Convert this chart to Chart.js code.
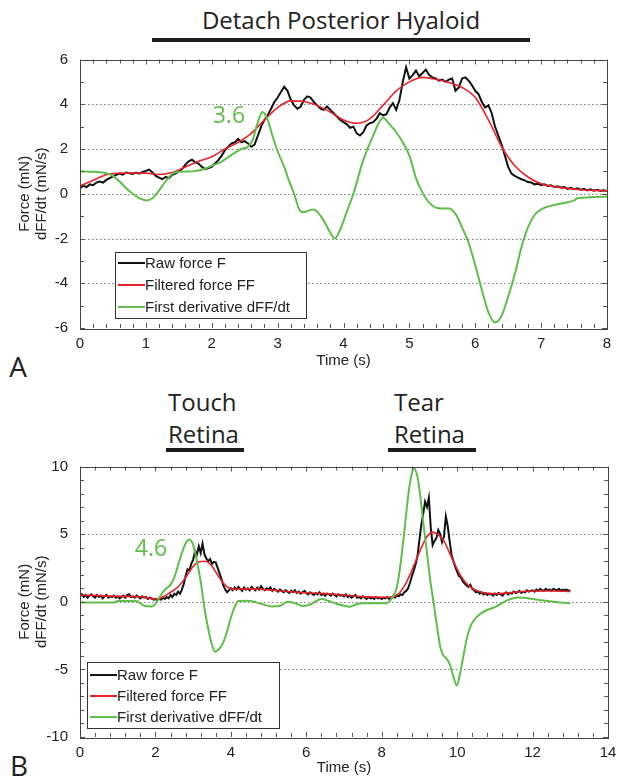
<!DOCTYPE html>
<html>
<head>
<meta charset="utf-8">
<script src="https://cdn.jsdelivr.net/npm/chart.js@4.4.0/dist/chart.umd.min.js"></script>
<style>
    body { margin: 0; background: #fff; }
    #page { position: relative; width: 618px; height: 779px; overflow: hidden; font-family: 'Open Sans', sans-serif; color: #222; }
    .t { position: absolute; white-space: nowrap; line-height: 1; }
    .c { transform: translate(-50%, -50%); }
    .l { transform: translateY(-50%); }
    .bar { position: absolute; height: 4px; background: #1b1b1b; }
    canvas { position: absolute; left: 0; }
</style>
</head>
<body>
<div id="page">
    <div class="t c" style="left:341px; top:20px; font-size:24px;">Detach Posterior Hyaloid</div>
    <div class="bar" style="left:152px; top:38px; width:378px;"></div>

    <div class="t l" style="left:168px; top:402px; font-size:24px;">Touch</div>
    <div class="t l" style="left:168px; top:434px; font-size:24px;">Retina</div>
    <div class="bar" style="left:166px; top:448px; width:78px;"></div>
    <div class="t l" style="left:394px; top:402px; font-size:24px;">Tear</div>
    <div class="t l" style="left:394px; top:434px; font-size:24px;">Retina</div>
    <div class="bar" style="left:388px; top:448px; width:88px;"></div>

    <div class="t c" style="left:18px; top:366px; font-size:28px;">A</div>
    <div class="t c" style="left:19px; top:765px; font-size:28px;">B</div>

    <canvas id="chart-a" width="618" height="332" style="top:48px;"></canvas>
    <canvas id="chart-b" width="618" height="324" style="top:455px;"></canvas>
</div>

<script>
// ---- Panel A : detach posterior hyaloid ----
const RAW_STEP = 0.05;   // raw force sampled every 0.05 s
const rawA = [
    0.25, 0.35, 0.3, 0.42, 0.38, 0.5, 0.55, 0.5, 0.62, 0.7, 0.78, 0.85, 0.9, 0.85, 0.95, 0.92, 0.88, 0.95, 0.9, 0.97,
    1.02, 1.08, 0.95, 0.8, 0.72, 0.65, 0.75, 0.7, 0.85, 0.9, 1.0, 1.1, 1.3, 1.45, 1.52, 1.4, 1.35, 1.2, 1.1, 1.15,
    1.2, 1.35, 1.5, 1.7, 1.95, 2.1, 2.25, 2.3, 2.45, 2.3, 2.35, 2.25, 2.1, 2.2, 2.6, 3.0, 3.3, 3.5, 3.8, 4.1,
    4.3, 4.55, 4.78, 4.6, 4.2, 3.95, 3.8, 3.9, 4.2, 4.35, 4.3, 4.1, 3.95, 3.8, 3.75, 3.9, 3.75, 3.6, 3.45, 3.3,
    3.2, 3.1, 2.95, 3.0, 2.7, 2.6, 2.75, 3.05, 3.15, 3.2, 3.35, 3.6, 3.5, 3.55, 3.85, 4.05, 3.75, 4.2, 5.0, 5.65,
    5.15, 5.3, 5.5, 5.25, 5.4, 5.55, 5.3, 5.2, 5.15, 5.05, 5.1, 5.0, 5.1, 5.15, 4.6, 4.75, 5.15, 5.2, 5.05, 4.85,
    4.6, 4.45, 4.1, 3.85, 3.95, 3.6, 3.0, 2.6, 2.2, 1.7, 1.2, 0.9, 0.8, 0.72, 0.65, 0.6, 0.52, 0.5, 0.42, 0.45,
    0.38, 0.42, 0.35, 0.38, 0.3, 0.33, 0.28, 0.3, 0.22, 0.27, 0.2, 0.24, 0.18, 0.22, 0.15, 0.2, 0.14, 0.18, 0.13, 0.16, 0.12
];
const filtTimeA = [0, 0.2, 0.4, 0.6, 0.8, 1.0, 1.2, 1.4, 1.6, 1.8, 2.0, 2.2, 2.4, 2.6, 2.8, 3.0, 3.2, 3.4, 3.6, 3.8,
    4.0, 4.2, 4.4, 4.6, 4.8, 5.0, 5.2, 5.4, 5.6, 5.8, 6.0, 6.2, 6.4, 6.6, 6.8, 7.0, 7.2, 7.4, 7.6, 7.8, 8.0];
const filtA = [0.35, 0.6, 0.85, 0.92, 0.93, 0.92, 0.86, 0.95, 1.2, 1.45, 1.65, 2.0, 2.3, 2.7, 3.3, 3.85, 4.15, 4.12, 3.95, 3.65,
    3.3, 3.15, 3.35, 3.95, 4.6, 5.0, 5.2, 5.12, 4.97, 4.75, 4.3, 3.3, 2.1, 1.25, 0.75, 0.45, 0.32, 0.24, 0.18, 0.15, 0.13];
const derivTimeA = [0, 0.2, 0.4, 0.5, 0.6, 0.7, 0.8, 0.9, 1.0, 1.1, 1.2, 1.3, 1.4, 1.5, 1.7, 1.85, 2.0, 2.15, 2.3, 2.45,
    2.55, 2.62, 2.7, 2.77, 2.85, 2.93, 3.0, 3.1, 3.17, 3.25, 3.33, 3.4, 3.5, 3.55, 3.6, 3.7, 3.8, 3.87, 3.95, 4.05,
    4.15, 4.3, 4.45, 4.6, 4.7, 4.8, 4.9, 5.0, 5.1, 5.2, 5.3, 5.4, 5.5, 5.6, 5.7, 5.8, 5.9, 6.0, 6.1, 6.2,
    6.3, 6.4, 6.5, 6.6, 6.7, 6.8, 6.9, 7.0, 7.2, 7.4, 7.5, 7.55, 7.8, 8.0];
const derivA = [1.0, 0.98, 0.92, 0.8, 0.55, 0.25, 0.0, -0.2, -0.3, -0.2, 0.15, 0.55, 0.88, 0.98, 1.0, 1.07, 1.25, 1.44, 1.74, 2.0,
    2.1, 2.4, 3.2, 3.65, 3.3, 2.5, 1.9, 1.2, 0.6, 0.0, -0.7, -0.82, -0.72, -0.7, -0.8, -1.2, -1.75, -2.0, -1.6, -0.8,
    0.0, 1.5, 2.6, 3.4, 3.1, 2.75, 2.3, 1.7, 0.7, 0.05, -0.4, -0.62, -0.66, -0.66, -0.9, -1.5, -2.2, -3.2, -4.3, -5.3,
    -5.75, -5.45, -4.6, -3.6, -2.4, -1.5, -0.95, -0.7, -0.5, -0.38, -0.3, -0.2, -0.15, -0.12];

// ---- Panel B : touch retina / tear retina ----
const rawB = [
    0.4, 0.55, 0.35, 0.5, 0.3, 0.45, 0.55, 0.4, 0.3, 0.5, 0.35, 0.45, 0.25, 0.4, 0.5, 0.3, 0.4, 0.35, 0.45, 0.3,
    0.4, 0.25, 0.35, 0.45, 0.3, 0.5, 0.55, 0.35, 0.4, 0.3, 0.45, 0.35, 0.25, 0.4, 0.3, 0.35, 0.2, 0.3, 0.25, 0.15,
    0.2, 0.1, 0.25, 0.15, 0.3, 0.2, 0.35, 0.25, 0.5, 0.35, 0.6, 0.5, 0.75, 0.6, 0.9, 1.3, 1.9, 2.4, 2.3, 2.8,
    3.1, 3.75, 3.5, 4.1, 3.6, 4.3, 3.5, 3.2, 3.0, 3.15, 2.8, 2.95, 2.9, 2.5, 2.1, 1.7, 1.2, 0.9, 0.7, 0.85,
    1.0, 0.85, 1.05, 0.9, 1.1, 0.95, 0.8, 1.05, 0.9, 1.0, 0.85, 1.1, 0.95, 0.85, 1.05, 0.9, 1.15, 0.95, 0.85, 1.0,
    0.9, 1.05, 0.8, 0.95, 0.85, 0.75, 0.9, 0.8, 0.7, 0.85, 0.75, 0.65, 0.8, 0.7, 0.85, 0.65, 0.75, 0.6, 0.7, 0.8,
    0.65, 0.55, 0.7, 0.6, 0.5, 0.65, 0.55, 0.7, 0.5, 0.6, 0.45, 0.6, 0.55, 0.45, 0.6, 0.5, 0.4, 0.55, 0.45, 0.5,
    0.4, 0.55, 0.35, 0.45, 0.3, 0.4, 0.5, 0.3, 0.35, 0.25, 0.4, 0.3, 0.2, 0.35, 0.25, 0.3, 0.2, 0.35, 0.25, 0.3,
    0.2, 0.3, 0.25, 0.35, 0.2, 0.3, 0.35, 0.3, 0.45, 0.4, 0.55, 0.5, 0.7, 0.8, 1.0, 1.4, 1.9, 2.3, 2.8, 3.4,
    4.6, 5.7, 6.5, 7.4, 7.0, 7.7, 5.5, 4.2, 4.5, 4.7, 5.3, 5.0, 4.4, 4.8, 6.3, 5.6, 4.5, 3.5, 3.0, 2.6,
    2.2, 1.9, 1.8, 1.5, 1.35, 1.2, 1.1, 1.25, 0.95, 0.85, 0.7, 0.75, 0.6, 0.7, 0.55, 0.65, 0.5, 0.6, 0.55, 0.45,
    0.6, 0.5, 0.65, 0.55, 0.45, 0.6, 0.7, 0.55, 0.65, 0.6, 0.75, 0.65, 0.7, 0.8, 0.65, 0.75, 0.7, 0.85, 0.75, 0.8,
    0.85, 0.75, 0.9, 0.8, 0.95, 0.85, 0.8, 0.95, 0.85, 0.9, 0.8, 0.95, 0.9, 0.85, 0.95, 0.8, 0.9, 0.85, 0.9, 0.8, 0.85
];
const filtTimeB = [0, 0.5, 1.0, 1.6, 2.0, 2.2, 2.4, 2.6, 2.8, 3.0, 3.15, 3.3, 3.45, 3.6, 3.75, 3.9, 4.05, 4.5, 5.0, 5.5,
    6.0, 6.5, 7.0, 7.5, 8.0, 8.25, 8.45, 8.6, 8.75, 8.9, 9.05, 9.2, 9.35, 9.5, 9.65, 9.8, 9.95, 10.1, 10.3, 10.5,
    10.8, 11.1, 11.5, 12.0, 12.5, 13.0];
const filtB = [0.5, 0.45, 0.4, 0.37, 0.2, 0.35, 0.7, 1.1, 1.8, 2.6, 2.95, 3.0, 2.8, 2.2, 1.55, 1.1, 0.93, 0.95, 0.88, 0.76,
    0.66, 0.6, 0.5, 0.38, 0.32, 0.35, 0.6, 1.15, 2.0, 3.0, 4.0, 4.8, 5.15, 4.95, 4.5, 3.6, 2.7, 1.9, 1.2, 0.85,
    0.62, 0.6, 0.7, 0.8, 0.8, 0.76];
const derivTimeB = [0, 0.5, 0.9, 1.0, 1.5, 1.6, 1.7, 1.9, 2.0, 2.1, 2.25, 2.4, 2.5, 2.6, 2.7, 2.8, 2.9, 3.0, 3.1, 3.2,
    3.3, 3.4, 3.5, 3.58, 3.7, 3.8, 3.9, 4.0, 4.1, 4.2, 4.45, 4.8, 5.1, 5.3, 5.5, 5.7, 5.9, 6.1, 6.4, 6.6,
    6.8, 7.0, 7.15, 7.3, 7.5, 8.1, 8.25, 8.4, 8.5, 8.6, 8.7, 8.8, 8.86, 8.95, 9.02, 9.1, 9.2, 9.3, 9.37, 9.45,
    9.55, 9.62, 9.72, 9.8, 9.9, 9.99, 10.08, 10.16, 10.25, 10.34, 10.45, 10.6, 10.8, 11.0, 11.3, 11.6, 11.8, 12.0, 12.5, 13.0];
const derivB = [-0.05, -0.05, -0.05, 0.05, 0.05, -0.1, -0.3, -0.35, -0.15, 0.3, 0.9, 1.25, 1.8, 2.7, 3.6, 4.3, 4.6, 4.2, 3.0, 1.5,
    -0.5, -2.0, -3.2, -3.7, -3.45, -3.0, -2.2, -1.2, -0.4, 0.05, 0.07, -0.15, -0.35, -0.3, 0.0, -0.1, -0.32, -0.2, 0.2, 0.05,
    -0.15, -0.3, -0.37, -0.2, -0.12, -0.12, 0.2, 1.05, 2.8, 5.2, 7.8, 9.5, 9.85, 9.2, 7.9, 5.9, 3.6, 1.3, 0.07, -1.5,
    -3.3, -3.9, -4.2, -4.6, -5.5, -6.2, -5.3, -4.1, -2.8, -1.9, -1.35, -0.92, -0.6, -0.4, 0.07, 0.32, 0.3, 0.2, 0.02, -0.12];

const seriesNames = ['Raw force F', 'Filtered force FF', 'First derivative dFF/dt'];
const seriesColors = ['#111111', '#e8232a', '#5fbe4a'];

const fontFamily = '"Liberation Sans", Arial, sans-serif';
const tickFont = {family: fontFamily, size: 15, lineHeight: 1};
const titleFont = {family: fontFamily, size: 15};

function pts(times, values) {
    return values.map((v, i) => ({x: times[i], y: v}));
}
function rawPts(values) {
    return values.map((v, i) => ({x: +(i * RAW_STEP).toFixed(2), y: v}));
}

// MATLAB style frame: dotted grid, inward ticks on all four sides, boxed legend, peak note
const matlabFrame = {
    id: 'matlabFrame',
    beforeDatasetsDraw(chart, args, opts) {
        const {ctx, chartArea: a} = chart;
        const y = chart.scales.y;
        ctx.save();
        ctx.strokeStyle = '#7d7d7d';
        ctx.lineWidth = 1;
        ctx.setLineDash([1.5, 2.5]);
        opts.gridY.forEach(v => {
            const py = Math.round(y.getPixelForValue(v)) + 0.5;
            ctx.beginPath();
            ctx.moveTo(a.left, py);
            ctx.lineTo(a.right, py);
            ctx.stroke();
        });
        ctx.restore();
    },
    afterDatasetsDraw(chart, args, opts) {
        const {ctx, chartArea: a} = chart;
        const x = chart.scales.x, y = chart.scales.y;
        ctx.save();
        ctx.strokeStyle = '#555';
        ctx.lineWidth = 1;
        // x ticks (top and bottom)
        for (let v = x.min; v <= x.max + 1e-9; v += opts.xMinor) {
            const major = Math.abs(v / opts.xMajor - Math.round(v / opts.xMajor)) < 1e-6;
            const len = major ? 5 : 4;
            const px = Math.round(x.getPixelForValue(v)) + 0.5;
            ctx.beginPath();
            ctx.moveTo(px, a.bottom); ctx.lineTo(px, a.bottom - len);
            ctx.moveTo(px, a.top); ctx.lineTo(px, a.top + len);
            ctx.stroke();
        }
        // y ticks (left and right)
        for (let v = y.min; v <= y.max + 1e-9; v += opts.yMinor) {
            const major = Math.abs(v / opts.yMajor - Math.round(v / opts.yMajor)) < 1e-6;
            const len = major ? 5 : 4;
            const py = Math.round(y.getPixelForValue(v)) + 0.5;
            ctx.beginPath();
            ctx.moveTo(a.left, py); ctx.lineTo(a.left + len, py);
            ctx.moveTo(a.right, py); ctx.lineTo(a.right - len, py);
            ctx.stroke();
        }
        // box
        ctx.strokeStyle = '#444';
        ctx.strokeRect(Math.round(a.left) + 0.5, Math.round(a.top) + 0.5,
            Math.round(a.right - a.left), Math.round(a.bottom - a.top));

        // legend
        const lg = opts.legend;
        ctx.fillStyle = '#fff';
        ctx.fillRect(lg.x, lg.y, lg.w, lg.h);
        ctx.strokeStyle = '#333';
        ctx.strokeRect(lg.x + 0.5, lg.y + 0.5, lg.w, lg.h);
        ctx.font = '15px ' + fontFamily;
        ctx.textBaseline = 'middle';
        seriesNames.forEach((name, i) => {
            const ry = lg.y + lg.rowTop + i * lg.rowGap;
            ctx.strokeStyle = seriesColors[i];
            ctx.lineWidth = 2;
            ctx.beginPath();
            ctx.moveTo(lg.x + 3, ry); ctx.lineTo(lg.x + 30, ry);
            ctx.stroke();
            ctx.fillStyle = '#222';
            ctx.fillText(name, lg.x + 30, ry + 1);
        });

        // peak value note
        const n = opts.note;
        ctx.fillStyle = seriesColors[2];
        ctx.font = '23px "Open Sans", sans-serif';
        ctx.textAlign = 'center';
        ctx.fillText(n.text, x.getPixelForValue(n.x), y.getPixelForValue(n.y));
        ctx.restore();
    }
};

function makeChart(id, data, cfg) {
    return new Chart(document.getElementById(id).getContext('2d'), {
        type: 'line',
        data: {
            datasets: [
                {label: seriesNames[0], data: data[0], borderColor: seriesColors[0], borderWidth: 2, tension: 0, order: 3},
                {label: seriesNames[1], data: data[1], borderColor: seriesColors[1], borderWidth: 1.6, cubicInterpolationMode: 'monotone', order: 2},
                {label: seriesNames[2], data: data[2], borderColor: seriesColors[2], borderWidth: 2, cubicInterpolationMode: 'monotone', order: 1}
            ]
        },
        options: {
            responsive: false,
            animation: false,
            events: [],
            layout: {padding: {left: 0, right: cfg.padRight, top: cfg.padTop, bottom: 0}},
            elements: {point: {radius: 0}},
            plugins: {
                legend: {display: false},
                tooltip: {enabled: false},
                matlabFrame: cfg.frame
            },
            scales: {
                x: {
                    type: 'linear',
                    min: cfg.xMin, max: cfg.xMax,
                    afterFit: s => { s.height = cfg.xAxisH; },
                    grid: {display: false},
                    border: {display: false},
                    ticks: {stepSize: cfg.xStep, padding: 0, color: '#222', font: tickFont, maxRotation: 0, autoSkip: false},
                    title: {display: true, text: 'Time (s)', color: '#222', font: titleFont, padding: {top: 0, bottom: cfg.xTitlePad}}
                },
                y: {
                    min: cfg.yMin, max: cfg.yMax,
                    afterFit: s => { s.width = 80; },
                    grid: {display: false},
                    border: {display: false},
                    ticks: {stepSize: cfg.yStep, padding: 4, color: '#222', font: tickFont},
                    title: {
                        display: true, text: ['Force (mN)', 'dFF/dt (mN/s)'], color: '#222',
                        font: {family: fontFamily, size: 15, lineHeight: 1.15},
                        padding: {top: 16, bottom: 0}
                    }
                }
            }
        },
        plugins: [matlabFrame]
    });
}

makeChart('chart-a', [rawPts(rawA), pts(filtTimeA, filtA), pts(derivTimeA, derivA)], {
    xMin: 0, xMax: 8, xStep: 1, yMin: -6, yMax: 6, yStep: 2,
    padRight: 11, padTop: 11, xAxisH: 52, xTitlePad: 10,
    frame: {
        gridY: [-4, -2, 0, 2, 4], xMinor: 0.2, xMajor: 1, yMinor: 1, yMajor: 2,
        legend: {x: 115, y: 204, w: 191, h: 66, rowTop: 11, rowGap: 22},
        note: {text: '3.6', x: 2.26, y: 3.44}
    }
});

makeChart('chart-b', [rawPts(rawB), pts(filtTimeB, filtB), pts(derivTimeB, derivB)], {
    xMin: 0, xMax: 14, xStep: 2, yMin: -10, yMax: 10, yStep: 5,
    padRight: 10, padTop: 10, xAxisH: 42, xTitlePad: 2,
    frame: {
        gridY: [-5, 0, 5], xMinor: 0.4, xMajor: 2, yMinor: 1, yMajor: 5,
        legend: {x: 87, y: 207, w: 192, h: 66, rowTop: 13, rowGap: 21},
        note: {text: '4.6', x: 1.88, y: 3.9}
    }
});
</script>
</body>
</html>
